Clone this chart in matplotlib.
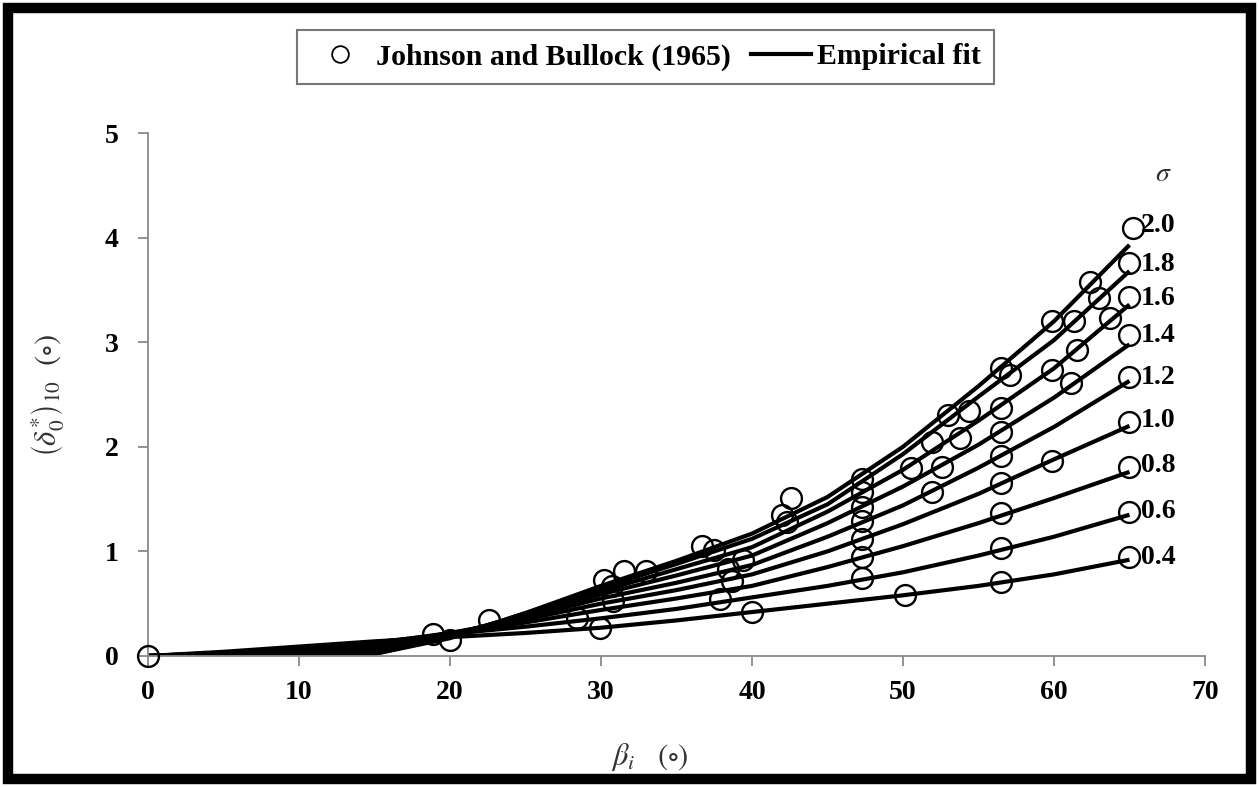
import matplotlib
matplotlib.use("Agg")
import matplotlib.pyplot as plt
from matplotlib.lines import Line2D
from matplotlib.patches import Rectangle

plt.rcParams["font.family"] = ["Liberation Serif", "DejaVu Serif"]
plt.rcParams["mathtext.fontset"] = "stix"

# empirical fit curves, one per sigma
beta_fit = [0, 5, 10, 15, 20, 25, 30, 35, 40, 45, 50, 55, 60, 65]
sigma_labels = ["2.0", "1.8", "1.6", "1.4", "1.2", "1.0", "0.8", "0.6", "0.4"]
fit_20 = [0, 0, 0, 0.02, 0.17, 0.41, 0.67, 0.91, 1.17, 1.52, 2.00, 2.58, 3.20, 3.93]
fit_18 = [0, 0, 0, 0.02, 0.18, 0.41, 0.65, 0.88, 1.12, 1.45, 1.93, 2.48, 3.02, 3.68]
fit_16 = [0, 0, 0.01, 0.04, 0.19, 0.40, 0.62, 0.83, 1.04, 1.38, 1.78, 2.25, 2.75, 3.36]
fit_14 = [0, 0, 0.02, 0.06, 0.20, 0.39, 0.59, 0.77, 0.96, 1.27, 1.62, 2.02, 2.47, 2.98]
fit_12 = [0, 0.01, 0.03, 0.08, 0.21, 0.37, 0.55, 0.70, 0.87, 1.14, 1.44, 1.80, 2.19, 2.63]
fit_10 = [0, 0.02, 0.05, 0.10, 0.22, 0.35, 0.50, 0.63, 0.78, 1.00, 1.26, 1.55, 1.88, 2.20]
fit_08 = [0, 0.03, 0.07, 0.12, 0.22, 0.32, 0.44, 0.55, 0.67, 0.85, 1.05, 1.27, 1.51, 1.76]
fit_06 = [0, 0.03, 0.08, 0.13, 0.21, 0.28, 0.36, 0.45, 0.56, 0.67, 0.80, 0.96, 1.14, 1.35]
fit_04 = [0, 0.04, 0.09, 0.14, 0.18, 0.22, 0.27, 0.34, 0.42, 0.50, 0.58, 0.67, 0.78, 0.92]
fits = [fit_20, fit_18, fit_16, fit_14, fit_12, fit_10, fit_08, fit_06, fit_04]
label_y = [4.12, 3.74, 3.42, 3.06, 2.66, 2.25, 1.82, 1.38, 0.94]

# Johnson and Bullock (1965) measurements
jb_beta = [0, 18.9, 20.0, 22.6, 28.4, 29.9, 30.2, 30.7, 30.8, 31.5, 33.0,
           36.7, 37.5, 37.9, 38.4, 38.7, 39.4, 40.0, 42.0, 42.3, 42.6,
           47.3, 47.3, 47.3, 47.3, 47.3, 47.3, 47.3,
           50.1, 50.5, 51.9, 51.9, 52.6, 53.0, 53.8, 54.4,
           56.5, 56.5, 56.5, 56.5, 56.5, 56.5, 56.5, 56.5, 57.1,
           59.9, 59.9, 59.9, 61.1, 61.3, 61.5, 62.4, 63.0, 63.7,
           65.2, 65.0, 65.0, 65.0, 65.0, 65.0, 65.0, 65.0, 65.0]
jb_delta = [0, 0.21, 0.15, 0.34, 0.36, 0.27, 0.73, 0.67, 0.53, 0.81, 0.81,
            1.05, 1.01, 0.54, 0.83, 0.72, 0.92, 0.42, 1.35, 1.28, 1.51,
            1.69, 1.57, 1.42, 1.29, 1.12, 0.95, 0.75,
            0.58, 1.80, 2.05, 1.57, 1.81, 2.30, 2.08, 2.34,
            2.75, 2.37, 2.14, 1.91, 1.65, 1.37, 1.03, 0.71, 2.69,
            3.20, 2.73, 1.86, 2.61, 3.20, 2.93, 3.58, 3.42, 3.23,
            4.09, 3.76, 3.43, 3.07, 2.67, 2.24, 1.81, 1.38, 0.95]

fig = plt.figure(figsize=(12.59, 7.87), dpi=100)
ax = fig.add_axes([0.1176, 0.1665, 0.8395, 0.6645])

for vals in fits:
    ax.plot(beta_fit, vals, color="black", lw=3.0, solid_capstyle="butt",
            solid_joinstyle="round", zorder=2)

ax.plot(jb_beta, jb_delta, ls="none", marker="o", ms=15, mfc="none",
        mec="black", mew=1.7, clip_on=False, zorder=3)

# sigma labels at the end of each curve
for lab, y in zip(sigma_labels, label_y):
    ax.text(65.75, y, lab, fontsize=20, fontweight="bold", va="center",
            ha="left", clip_on=False)
ax.text(66.7, 4.6, r"$\sigma$", fontsize=20, color="#333333", va="center",
        ha="left")

ax.set_xlim(0, 70)
ax.set_ylim(0, 5)
ax.set_xticks(range(0, 71, 10))
ax.set_yticks(range(0, 6))
for side in ["top", "right"]:
    ax.spines[side].set_visible(False)
for side in ["left", "bottom"]:
    ax.spines[side].set_color("#8a8a8a")
    ax.spines[side].set_linewidth(1.3)
ax.tick_params(direction="out", length=7, width=1.3, color="#8a8a8a",
               labelsize=20, pad=10)
for t in ax.get_xticklabels() + ax.get_yticklabels():
    t.set_fontweight("bold")
ax.tick_params(axis="y", pad=14)

fig.text(650 / 1259, 1 - 757 / 787, r"$\beta_i\ \ \ (\circ)$", fontsize=22,
         color="#333333", ha="center", va="center")
fig.text(48 / 1259, 1 - 395 / 787,
         r"$\left(\delta_0^{*}\right)_{10}\ \ (\circ)$", fontsize=22,
         color="#333333", ha="center", va="center", rotation=90)

handles = [Line2D([], [], ls="none", marker="o", ms=12, mfc="none",
                  mec="black", mew=1.3),
           Line2D([], [], color="black", lw=3.0)]
leg = fig.legend(handles, ["Johnson and Bullock (1965)", "Empirical fit"],
                 loc="center", bbox_to_anchor=(0.5127, 0.9276), ncol=2,
                 frameon=True, fancybox=False, handlelength=2.0,
                 handletextpad=0.2, columnspacing=0.7, borderpad=0.45,
                 prop={"family": "Liberation Serif", "weight": "bold",
                       "size": 21.5})
leg.get_frame().set_edgecolor("#555555")
leg.get_frame().set_linewidth(1.5)

# heavy black frame round the whole figure
fig.patches.append(Rectangle((8 / 1259, 8 / 787), 1243 / 1259, 771 / 787,
                             transform=fig.transFigure, fill=False,
                             edgecolor="black", linewidth=7.5))

fig.savefig("out.png", dpi=100)
